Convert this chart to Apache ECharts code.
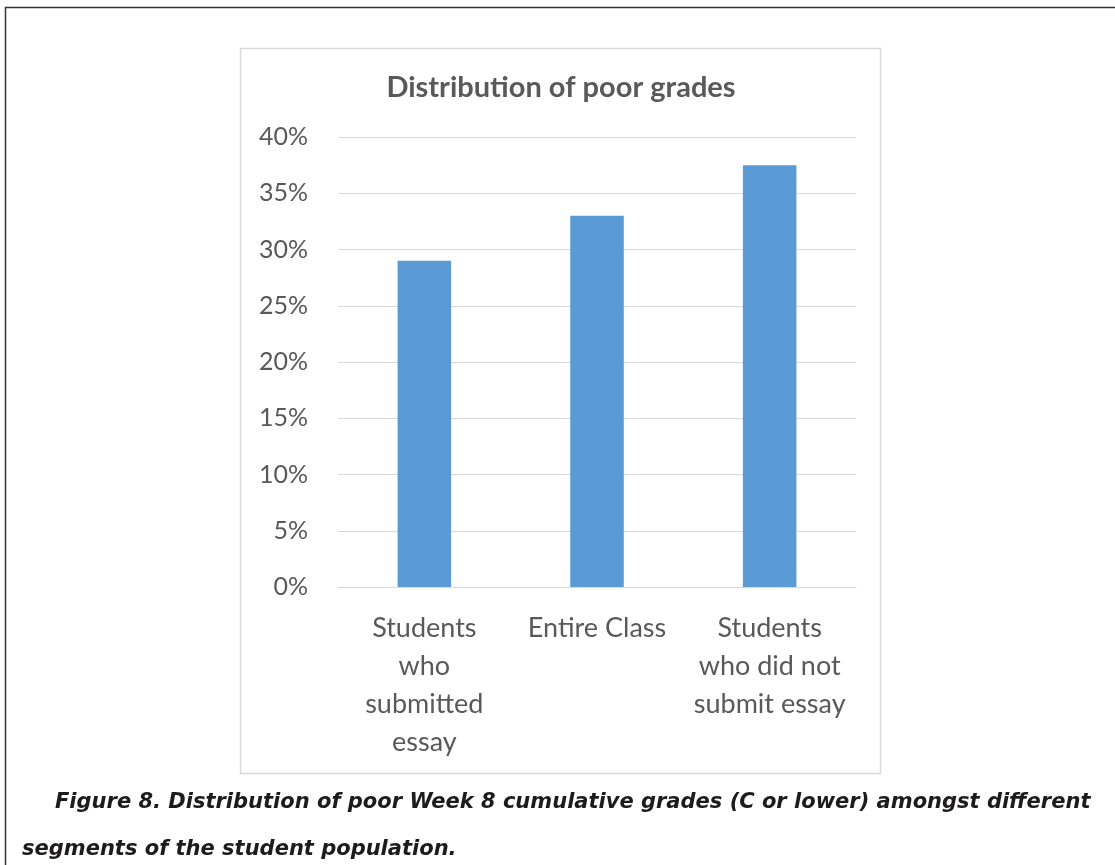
<!DOCTYPE html>
<html><head><meta charset="utf-8">
<script src="https://cdn.jsdelivr.net/npm/echarts@6/dist/echarts.min.js"></script>
<style>html,body{margin:0;padding:0;background:#fff;}#c{width:1115px;height:865px;}</style>
</head><body><div id="c"></div>
<script>
const categories = ["Students\nwho\nsubmitted\nessay", "Entire Class", "Students\nwho did not\nsubmit essay"];
const values = [29, 33, 37.5];
const yTicks = [0, 5, 10, 15, 20, 25, 30, 35, 40];
const chartTitle = "Distribution of poor grades";
const captionLine1 = "Figure 8. Distribution of poor Week 8 cumulative grades (C or lower) amongst different";
const captionLine2 = "segments of the student population.";

const chart = echarts.init(document.getElementById('c'), null, {renderer: 'canvas'});
const font = 'Lato, "Noto Sans", sans-serif';
const capFont = '"DejaVu Sans", sans-serif';
chart.setOption({
  animation: false,
  backgroundColor: '#fff',
  title: {
    text: chartTitle, left: 556, top: 68, textAlign: 'center',
    textStyle: {fontFamily: font, fontSize: 29, fontWeight: 'bold', color: '#595959'}
  },
  grid: {left: 338, right: 259, top: 137, bottom: 278, containLabel: false},
  xAxis: {
    type: 'category', data: categories,
    axisLine: {show: true, lineStyle: {color: '#d9d9d9', width: 1}},
    axisTick: {show: false},
    axisLabel: {fontFamily: font, fontSize: 27, color: '#595959', lineHeight: 38, margin: 22, interval: 0}
  },
  yAxis: {
    type: 'value', min: yTicks[0], max: yTicks[yTicks.length-1], interval: 5,
    axisLine: {show: false}, axisTick: {show: false},
    splitLine: {lineStyle: {color: '#d9d9d9', width: 1}},
    axisLabel: {fontFamily: font, fontSize: 25, color: '#595959', margin: 30, formatter: v => v + '%'}
  },
  series: [{
    type: 'bar', data: values, barWidth: '31%',
    itemStyle: {color: '#5b9bd5'}
  }],
  graphic: [
    {type: 'rect', shape: {x: 5.5, y: 7.5, width: 1200, height: 1000}, style: {fill: null, stroke: '#333', lineWidth: 1.5}, z: -10, silent: true},
    {type: 'rect', shape: {x: 240.5, y: 48.5, width: 640, height: 725}, style: {fill: null, stroke: '#d9d9d9', lineWidth: 1.5}, z: -9, silent: true},
    {type: 'text', left: 55, top: 792, style: {text: captionLine1, fontFamily: capFont, fontSize: 21, fontWeight: 'bold', fontStyle: 'italic', fill: '#1e1b1c'}},
    {type: 'text', left: 22, top: 839, style: {text: captionLine2, fontFamily: capFont, fontSize: 21, fontWeight: 'bold', fontStyle: 'italic', fill: '#1e1b1c'}}
  ]
});
</script></body></html>
